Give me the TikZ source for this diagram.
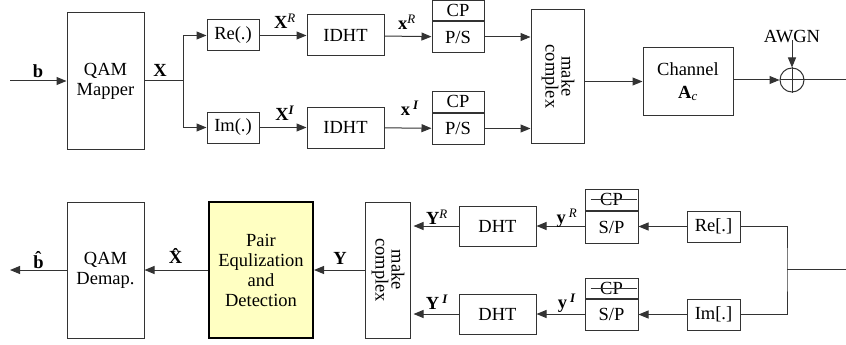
\documentclass[tikz,border=0pt]{standalone}
\usepackage{fontspec}
\setmainfont{Liberation Serif}
\usetikzlibrary{arrows.meta}
\definecolor{ink}{HTML}{333333}
\definecolor{pairfill}{HTML}{FFFFC2}
\tikzset{
  blk/.style={draw=ink, line width=1pt, rectangle, inner sep=0pt, align=center,
              font=\fontsize{18.5}{20}\selectfont},
  sz/.style 2 args={minimum width=#1pt, minimum height=#2pt},
  sig/.style={draw=ink, line width=1pt, -{Triangle[length=10pt,width=8pt]}},
  wire/.style={draw=ink, line width=1pt},
  lbl/.style={font=\fontsize{18.5}{20}\selectfont, inner sep=0pt},
}
\begin{document}
\begin{tikzpicture}[x=1pt, y=-1pt]
\useasboundingbox (0,0) rectangle (846,345);

% ---------------- transmitter ----------------
\coordinate (bin) at (10,81);
\node[blk, sz={77}{136}] (qam) at (105.5,81) {QAM\\Mapper};
\coordinate (split) at (183,81);
\node[blk, sz={52}{31}] (re) at (233,35.5) {Re(.)};
\node[blk, sz={52}{31}] (im) at (233,127.5) {Im(.)};
\node[blk, sz={77}{41}] (idhtR) at (345.5,35.5) {IDHT};
\node[blk, sz={77}{41}] (idhtI) at (345.5,127.5) {IDHT};
% CP / P-S blocks
\node[blk, sz={52}{20}] (cpR) at (458,10.5) {CP};
\node[blk, sz={52}{31}, anchor=north] (psR) at (cpR.south) {P/S};
\node[blk, sz={52}{21}] (cpI) at (458,101.5) {CP};
\node[blk, sz={52}{31}, anchor=north] (psI) at (cpI.south) {P/S};
\node[blk, sz={53}{133}] (mcT) at (557.5,76.5) {\rotatebox{-90}{\begin{tabular}{c}make\\[-4pt]complex\end{tabular}}};
\node[blk, sz={90}{67}] (chan) at (688,81.5) {Channel\\[3pt]\textbf{A}\textsubscript{\textit{c}}};
\node[draw=ink, line width=1pt, circle, minimum size=24pt, inner sep=0pt] (sum) at (792,80) {};
\node[lbl] (awgn) at (792,37) {AWGN};
\coordinate (txout) at (846,80);

\draw[sig] (bin) -- (qam.west |- bin);
\node[lbl] at (38,71) {\textbf{b}};
\draw[wire] (qam.east |- split) -- (split);
\node[lbl] at (160,70) {\textbf{X}};
\draw[sig] (split) |- (re.west);
\draw[sig] (split) |- (im.west);
\draw[sig] (re) -- (idhtR);
\draw[sig] (im) -- (idhtI);
\node[lbl] at (285,21) {\textbf{X}\textsuperscript{\textit{R}}};
\node[lbl] at (285,113) {\textbf{X}\textsuperscript{\textbf{\textit{I}}}};
\draw[sig] (idhtR) -- (psR);
\draw[sig] (idhtI) -- (psI);
\node[lbl] at (407,22) {\textbf{x}\textsuperscript{\textit{R}}};
\node[lbl] at (410,108) {\textbf{x}\,\textsuperscript{\textbf{\textit{I}}}};
\draw[sig] (psR) -- (mcT.west |- psR);
\draw[sig] (psI) -- (mcT.west |- psI);
\draw[sig] (mcT.east |- chan) -- (chan);
\draw[sig] (chan.east |- sum) -- (sum);
\draw[sig] ([yshift=3pt]awgn.south) -- (sum.north);
\draw[wire] (sum.west) -- (sum.east);
\draw[wire] (sum.north) -- (sum.south);
\draw[wire] (sum) -- (txout);

% ---------------- receiver ----------------
\node[blk, sz={77}{136}] (demap) at (105.5,270) {QAM\\Demap.};
\node[blk, sz={104}{136}, fill=pairfill, draw=black, line width=2pt] (pair) at (261,270) {Pair\\Equlization\\and\\Detection};
\node[blk, sz={45}{136}] (mcR) at (387.5,270) {\rotatebox{-90}{\begin{tabular}{c}make\\[-4pt]complex\end{tabular}}};
\node[blk, sz={77}{40}] (dhtR) at (497.5,226) {DHT};
\node[blk, sz={77}{40}] (dhtI) at (497.5,314) {DHT};
\node[blk, sz={53}{21}] (rcpR) at (611.5,199.5) {CP};
\node[blk, sz={53}{32}, anchor=north] (spR) at (rcpR.south) {S/P};
\node[blk, sz={53}{20}] (rcpI) at (611.5,288) {CP};
\node[blk, sz={53}{31}, anchor=north] (spI) at (rcpI.south) {S/P};
\node[blk, sz={53}{31}] (reR) at (713.5,226.5) {Re[.]};
\node[blk, sz={53}{31}] (imR) at (713.5,314.5) {Im[.]};
\coordinate (rxin) at (846,269);
\coordinate (fork) at (787,269);
\coordinate (bout) at (10,270);

% strike-through on the receiver CP fields
\draw[wire] ([xshift=6pt]rcpR.west) -- ([xshift=-2pt]rcpR.east);
\draw[wire] ([xshift=6pt]rcpI.west) -- ([xshift=-2pt]rcpI.east);

\draw[wire] (rxin) -- (fork);
\draw[wire] (reR.east) -| (fork) |- (imR.east);
\draw[sig] (reR.west) -- (spR.east |- reR.west);
\draw[sig] (imR.west) -- (spI.east |- imR.west);
\draw[sig] (spR.west |- dhtR) -- (dhtR);
\draw[sig] (spI.west |- dhtI) -- (dhtI);
\node[lbl] at (567,218) {\textbf{y}\,\textsuperscript{\textit{R}}};
\node[lbl] at (567,303) {\textbf{y}\,\textsuperscript{\textbf{\textit{I}}}};
\draw[sig] (dhtR) -- ([xshift=3pt]mcR.east |- dhtR);
\draw[sig] (dhtI) -- ([xshift=3pt]mcR.east |- dhtI);
\node[lbl] at (437,217) {\textbf{Y}\textsuperscript{\textit{R}}};
\node[lbl] at (437,302) {\textbf{Y}\,\textsuperscript{\textbf{\textit{I}}}};
\draw[sig] (mcR) -- (pair);
\node[lbl] at (340,258) {\textbf{Y}};
\draw[sig] (pair) -- (demap);
\node[lbl] at (177,256) {\textbf{\^{X}}};
\draw[sig] (demap.west |- bout) -- (bout);
\node[lbl] at (40,260) {\textbf{\^{b}}};
\end{tikzpicture}
\end{document}
